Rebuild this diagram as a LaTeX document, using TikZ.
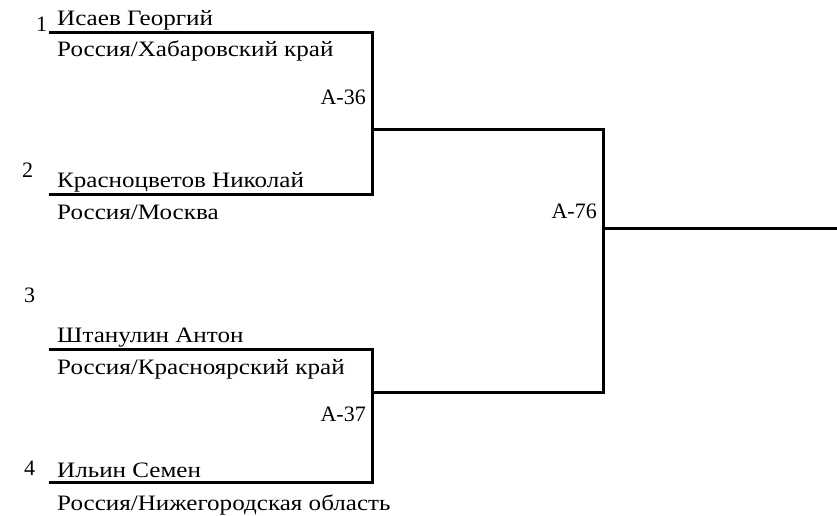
\documentclass[tikz,border=0pt]{standalone}
\usepackage{fontspec}
\setmainfont{Liberation Serif}
\newfontfamily\cyrwide[FakeStretch=1.14]{Liberation Serif}
\begin{document}
\begin{tikzpicture}[x=1pt,y=-1pt,
  txt/.style={inner sep=0pt,anchor=base west,font=\fontsize{22}{24}\selectfont},
  ctxt/.style={inner sep=0pt,anchor=base west,font=\cyrwide\fontsize{22}{24}\selectfont},
  rtxt/.style={inner sep=0pt,anchor=base east,font=\fontsize{22}{24}\selectfont},
  bline/.style={line width=3pt,line cap=rect,line join=miter}]
\useasboundingbox (0,0) rectangle (837,516);
% seed numbers
\node[txt] (n1) at (36,32) {1};
\node[txt] (n2) at (22,177) {2};
\node[txt] (n3) at (24,302) {3};
\node[txt] (n4) at (24,475) {4};
% players
\node[ctxt] (p1) at (57,26) {Исаев Георгий};
\node[ctxt] (c1) at (57,57) {Россия/Хабаровский край};
\node[ctxt] (p2) at (57,187) {Красноцветов Николай};
\node[ctxt] (c2) at (57,219) {Россия/Москва};
\node[ctxt] (p3) at (57,342) {Штанулин Антон};
\node[ctxt] (c3) at (57,374) {Россия/Красноярский край};
\node[ctxt] (p4) at (57,477) {Ильин Семен};
\node[ctxt] (c4) at (57,510) {Россия/Нижегородская область};
% match labels
\node[rtxt] (m36) at (366,105) {A-36};
\node[rtxt] (m37) at (366,421) {A-37};
\node[rtxt] (m76) at (597,218) {A-76};
% line coordinates
\coordinate (l1s) at (50,33);  \coordinate (l1e) at (372,33);
\coordinate (l2s) at (50,194); \coordinate (l2e) at (372,194);
\coordinate (l3s) at (50,349); \coordinate (l3e) at (372,349);
\coordinate (l4s) at (50,482); \coordinate (l4e) at (372,482);
\coordinate (j36) at (372,129); \coordinate (j37) at (372,392);
\coordinate (k36) at (603,129); \coordinate (k37) at (603,392);
\coordinate (j76) at (603,228); \coordinate (out) at (838,228);
% bracket lines
\draw[bline] (l1s) -- (l1e) -- (l2e) -- (l2s);
\draw[bline] (l3s) -- (l3e) -- (l4e) -- (l4s);
\draw[bline] (j36) -- (k36) -- (k37) -- (j37);
\draw[bline] (j76) -- (out);
\end{tikzpicture}
\end{document}
